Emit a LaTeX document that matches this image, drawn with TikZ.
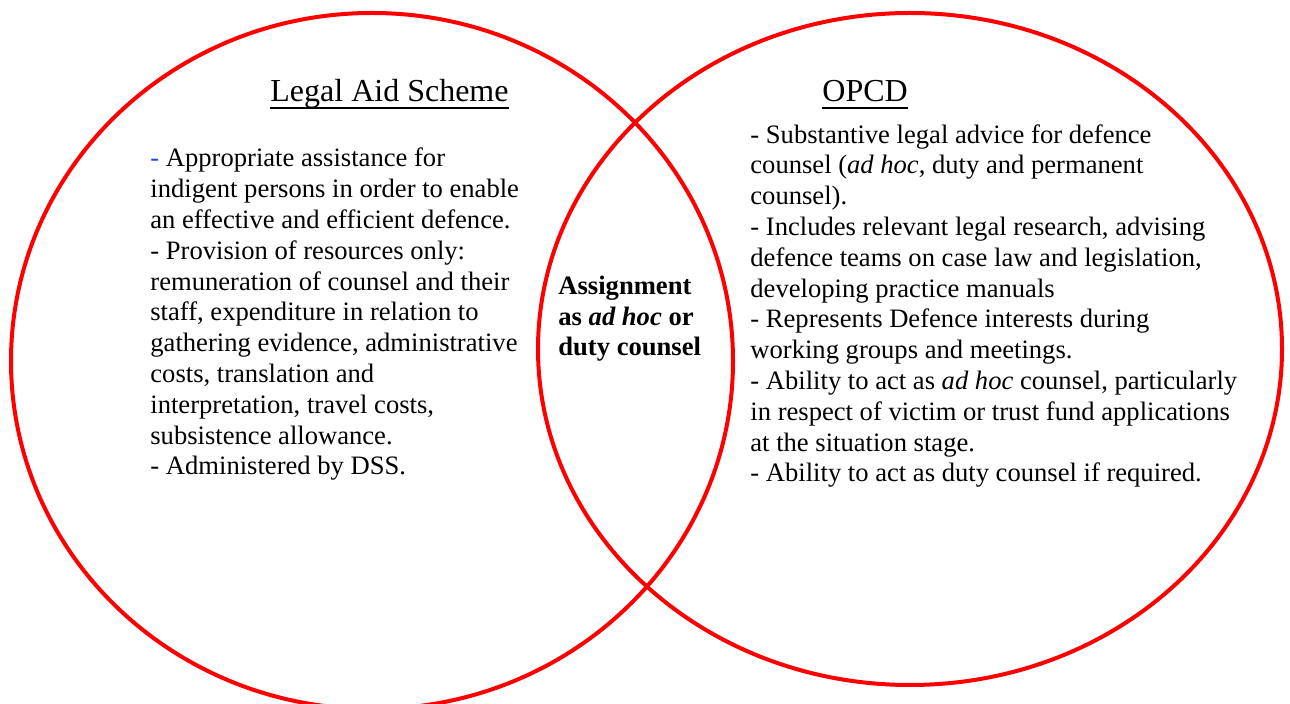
\documentclass[tikz,border=0pt]{standalone}
\usepackage{fontspec}
\setmainfont{Liberation Serif}
\usetikzlibrary{shapes.geometric}
\definecolor{ringred}{RGB}{255,0,0}
\definecolor{dashblue}{RGB}{40,70,220}
% underlined heading with a heavier rule
\newcommand\headline[1]{\setbox0\hbox{#1}\rlap{\rule[-3.6pt]{\wd0}{1pt}}\box0}
\begin{document}
\begin{tikzpicture}[x=0.5pt,y=-0.5pt,
  ring/.style={draw=ringred, line width=2pt, ellipse, inner sep=0pt},
  % multi-line blocks are placed by the baseline of their last line
  body/.style={anchor=base west, align=left, inner sep=0pt,
    font=\fontsize{13.3pt}{15.4pt}\selectfont},
  heading/.style={anchor=base west, inner sep=0pt,
    font=\fontsize{16pt}{18pt}\selectfont}]
\useasboundingbox (0,0) rectangle (1290,704);
\clip (0,0) rectangle (1290,704);

% the two overlapping sets
\node[ring, minimum width=361pt, minimum height=348pt] (las) at (372,361) {};
\node[ring, minimum width=372pt, minimum height=336pt] (opcd) at (910,349) {};

% headings
\node[heading] (lastitle) at (270,102) {\headline{Legal Aid Scheme}};
\node[heading] (opcdtitle) at (822,102) {\headline{OPCD}};

% Legal Aid Scheme
\node[body] (lastext) at (150,475) {{\color{dashblue}-} Appropriate assistance for\\
indigent persons in order to enable\\
an effective and efficient defence.\\
- Provision of resources only:\\
remuneration of counsel and their\\
staff, expenditure in relation to\\
gathering evidence, administrative\\
costs, translation and\\
interpretation, travel costs,\\
subsistence allowance.\\
- Administered by DSS.};

% overlap
\node[body, font=\fontsize{13.3pt}{15.4pt}\selectfont\bfseries] (both) at (558,356)
  {Assignment\\as \textit{ad hoc} or\\duty counsel};

% OPCD
\node[body] (opcdtext) at (750,482) {- Substantive legal advice for defence\\
counsel (\textit{ad hoc}, duty and permanent\\
counsel).\\
- Includes relevant legal research, advising\\
defence teams on case law and legislation,\\
developing practice manuals\\
- Represents Defence interests during\\
working groups and meetings.\\
- Ability to act as \textit{ad hoc} counsel, particularly\\
in respect of victim or trust fund applications\\
at the situation stage.\\
- Ability to act as duty counsel if required.};
\end{tikzpicture}
\end{document}
